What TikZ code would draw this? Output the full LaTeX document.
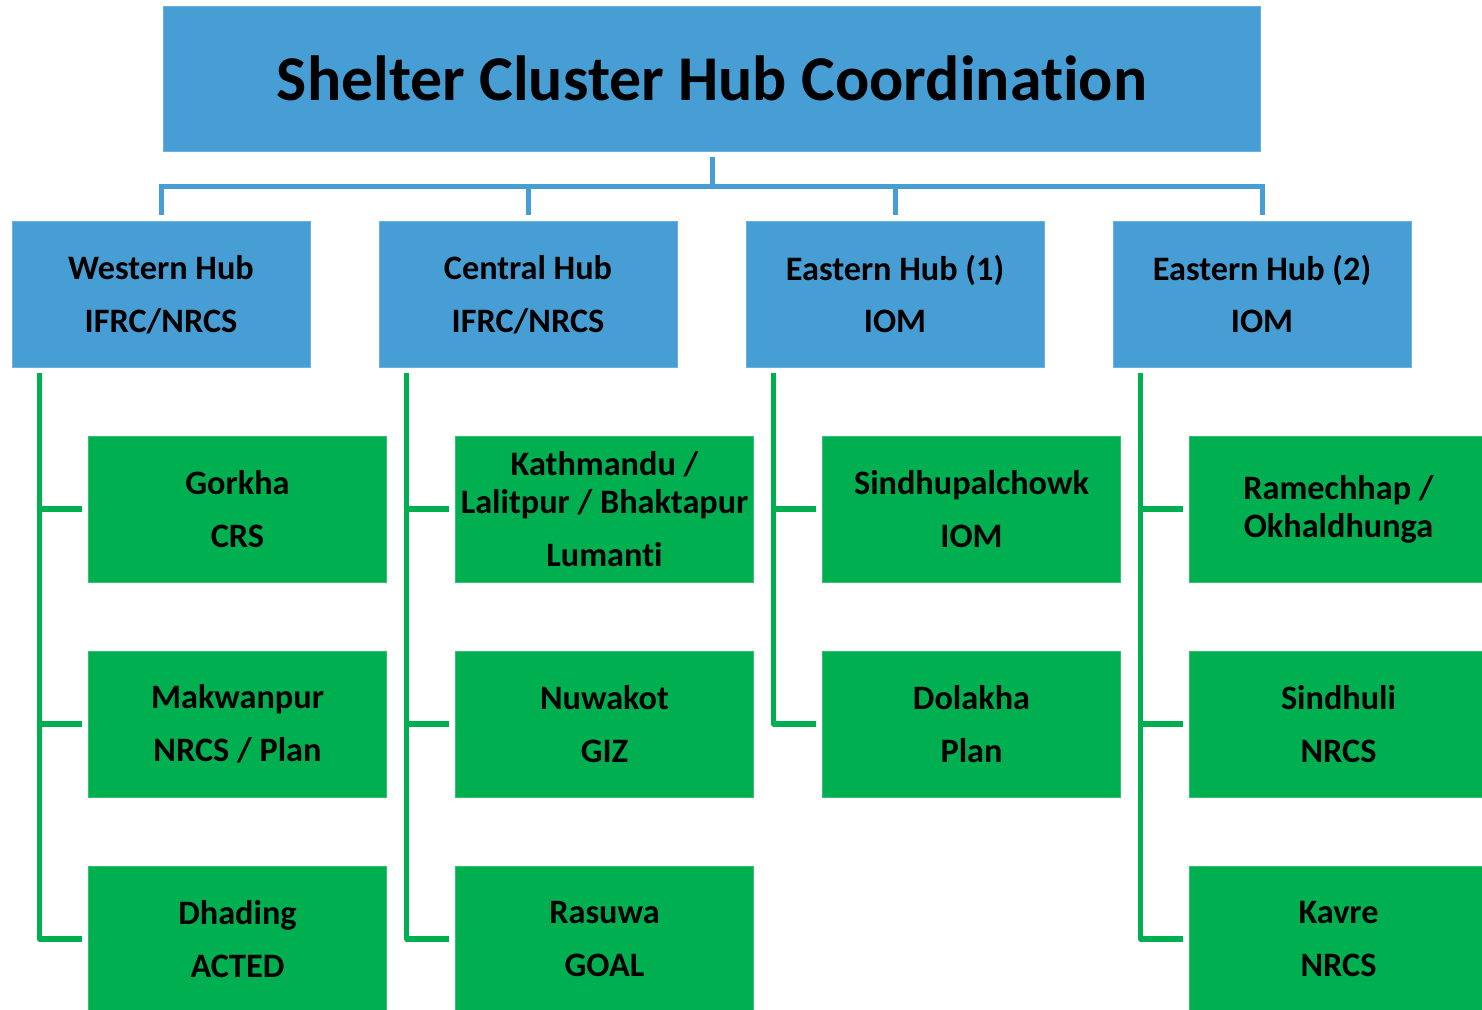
\documentclass[tikz,border=0pt]{standalone}
\usepackage{fontspec}
\setmainfont[Ligatures=NoCommon]{Carlito}
\usepackage{tikz}
\definecolor{hubblue}{RGB}{70,158,212}
\definecolor{leafgreen}{RGB}{0,176,80}

\begin{document}
\begin{tikzpicture}[x=0.02cm,y=-0.02cm,
    titlebox/.style={rectangle,fill=hubblue,draw=hubblue!80!white,line width=0.5pt,
        minimum width=21.96cm,minimum height=2.9cm,
        font=\bfseries\fontsize{36.3}{40}\selectfont},
    hubbox/.style={rectangle,fill=hubblue,draw=hubblue!80!white,line width=0.5pt,
        minimum width=5.96cm,minimum height=2.92cm,align=center,inner xsep=0pt,
        font=\bfseries\fontsize{19.5}{21.5}\selectfont},
    leafbox/.style={rectangle,fill=leafgreen,draw=leafgreen!80!white,line width=0.5pt,
        minimum width=5.96cm,minimum height=2.92cm,align=center,inner xsep=0pt,
        font=\bfseries\fontsize{19.5}{21.5}\selectfont},
    hubline/.style={draw=hubblue,line width=0.1cm,shorten <=0.12cm,shorten >=0.12cm},
    leafline/.style={draw=leafgreen,line width=0.11cm,shorten <=0.12cm,shorten >=0.12cm}]
    \useasboundingbox (0,0) rectangle (1482,1009);
    \node[titlebox] (coord) at (712,78.5) {Shelter Cluster Hub Coordination};

    \node[hubbox] (western) at (161,294) {Western Hub\vphantom{(}\\[8.5pt]IFRC/NRCS};
    \node[hubbox] (central) at (528,294) {Central Hub\vphantom{(}\\[8.5pt]IFRC/NRCS};
    \node[hubbox] (eastone) at (895,294) {Eastern Hub (1)\\[8.5pt]IOM};
    \node[hubbox] (easttwo) at (1262,294) {Eastern Hub (2)\\[8.5pt]IOM};

    \node[leafbox] (gorkha) at (237.5,509) {Gorkha\\[8.5pt]CRS};
    \node[leafbox] (makwanpur) at (237.5,724) {Makwanpur\\[8.5pt]NRCS / Plan};
    \node[leafbox] (dhading) at (237.5,939) {Dhading\\[8.5pt]ACTED};
    \node[leafbox] (kathmandu) at (604.5,509) {Kathmandu /\\Lalitpur / Bhaktapur\\[8.5pt]Lumanti};
    \node[leafbox] (nuwakot) at (604.5,724) {Nuwakot\\[8.5pt]GIZ};
    \node[leafbox] (rasuwa) at (604.5,939) {Rasuwa\\[8.5pt]GOAL};
    \node[leafbox] (sindhupalchowk) at (971.5,509) {Sindhupalchowk\\[8.5pt]IOM};
    \node[leafbox] (dolakha) at (971.5,724) {Dolakha\\[8.5pt]Plan};
    \node[leafbox] (ramechhap) at (1338.5,509) {Ramechhap /\\Okhaldhunga};
    \node[leafbox] (sindhuli) at (1338.5,724) {Sindhuli\\[8.5pt]NRCS};
    \node[leafbox] (kavre) at (1338.5,939) {Kavre\\[8.5pt]NRCS};

    \draw[hubline] (coord.south) -- ++(0,35) -| (western.north);
    \draw[hubline] (coord.south) -- ++(0,35) -| (central.north);
    \draw[hubline] (coord.south) -- ++(0,35) -| (eastone.north);
    \draw[hubline] (coord.south) -- ++(0,35) -| (easttwo.north);

    \draw[leafline] ([xshift=0.56cm]western.south west) |- (gorkha.west);
    \draw[leafline] ([xshift=0.56cm]western.south west) |- (makwanpur.west);
    \draw[leafline,line join=round] ([xshift=0.56cm]western.south west) |- (dhading.west);
    \draw[leafline] ([xshift=0.56cm]central.south west) |- (kathmandu.west);
    \draw[leafline] ([xshift=0.56cm]central.south west) |- (nuwakot.west);
    \draw[leafline,line join=round] ([xshift=0.56cm]central.south west) |- (rasuwa.west);
    \draw[leafline] ([xshift=0.56cm]eastone.south west) |- (sindhupalchowk.west);
    \draw[leafline,line join=round] ([xshift=0.56cm]eastone.south west) |- (dolakha.west);
    \draw[leafline] ([xshift=0.56cm]easttwo.south west) |- (ramechhap.west);
    \draw[leafline] ([xshift=0.56cm]easttwo.south west) |- (sindhuli.west);
    \draw[leafline,line join=round] ([xshift=0.56cm]easttwo.south west) |- (kavre.west);
\end{tikzpicture}
\end{document}
